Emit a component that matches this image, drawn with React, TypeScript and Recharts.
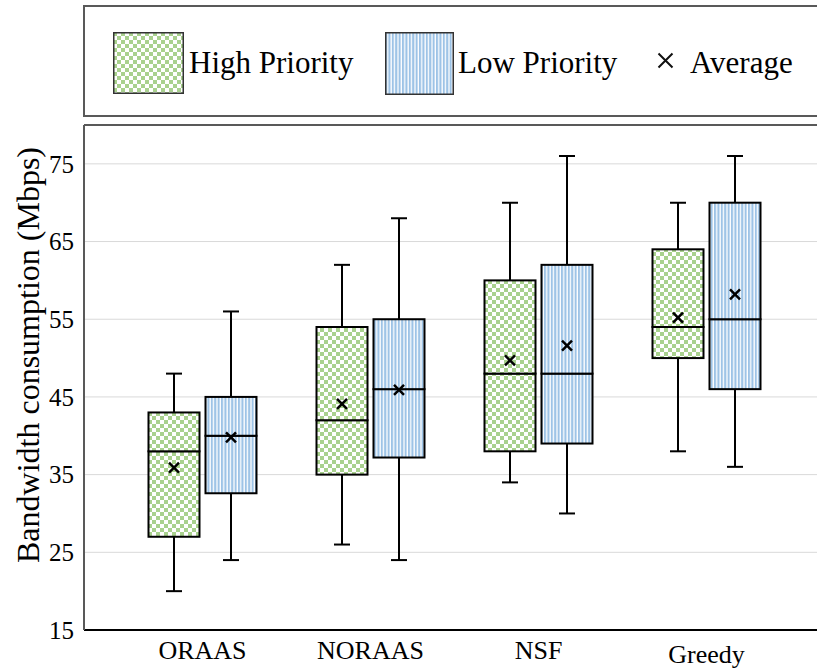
import React from "react"
import { ComposedChart, Bar, Scatter, XAxis, YAxis, CartesianGrid, ReferenceLine } from "recharts"

// values (Mbps)
const categories = ["ORAAS", "NORAAS", "NSF", "Greedy"]
const highMin = [20, 26, 34, 38]
const highQ1 = [27, 35, 38, 50]
const highMedian = [38, 42, 48, 54]
const highQ3 = [43, 54, 60, 64]
const highMax = [48, 62, 70, 70]
const highMean = [35.9, 44.1, 49.7, 55.2]
const lowMin = [24, 24, 30, 36]
const lowQ1 = [32.6, 37.2, 39, 46]
const lowMedian = [40, 46, 48, 55]
const lowQ3 = [45, 55, 62, 70]
const lowMax = [56, 68, 76, 76]
const lowMean = [39.8, 45.9, 51.6, 58.2]
const yTicks = [15, 25, 35, 45, 55, 65, 75]
const legendLabels = ["High Priority", "Low Priority", "Average"]

const FONT = "'Liberation Serif', 'Times New Roman', serif"
const BAR = 51
const GAP = 6
const SHIFT = (BAR + GAP) / 2

const data = categories.map((name, i) => ({
  name,
  hBase: highMin[i],
  hLowW: highQ1[i] - highMin[i],
  hBoxLo: highMedian[i] - highQ1[i],
  hBoxHi: highQ3[i] - highMedian[i],
  hUpW: highMax[i] - highQ3[i],
  hMean: highMean[i],
  lBase: lowMin[i],
  lLowW: lowQ1[i] - lowMin[i],
  lBoxLo: lowMedian[i] - lowQ1[i],
  lBoxHi: lowQ3[i] - lowMedian[i],
  lUpW: lowMax[i] - lowQ3[i],
  lMean: lowMean[i],
}))

const Empty = () => <g />

const LowerWhisker = (p: any) => {
  const cx = p.x + p.width / 2
  const bottom = p.y + p.height
  return (
    <g stroke="#000" strokeWidth={2}>
      <line x1={cx} x2={cx} y1={p.y} y2={bottom} />
      <line x1={cx - 8} x2={cx + 8} y1={bottom} y2={bottom} />
    </g>
  )
}

const UpperWhisker = (p: any) => {
  const cx = p.x + p.width / 2
  return (
    <g stroke="#000" strokeWidth={2}>
      <line x1={cx} x2={cx} y1={p.y} y2={p.y + p.height} />
      <line x1={cx - 8} x2={cx + 8} y1={p.y} y2={p.y} />
    </g>
  )
}

const boxShape = (pattern: string) => (p: any) =>
  <rect x={p.x} y={p.y} width={p.width} height={p.height} fill={`url(#${pattern})`} stroke="#000" strokeWidth={2} />

const meanShape = (dx: number) => (p: any) => {
  const x = p.cx + dx
  const y = p.cy
  return (
    <path
      d={`M${x - 5},${y - 5}L${x + 5},${y + 5}M${x + 5},${y - 5}L${x - 5},${y + 5}`}
      stroke="#000"
      strokeWidth={2.5}
      fill="none"
    />
  )
}

const CategoryTick = (p: any) => (
  <text
    x={p.x}
    y={p.y}
    dy={p.payload.value === "Greedy" ? 25 : 21}
    textAnchor="middle"
    fontSize={26}
    fill="#000"
    style={{ fontFamily: FONT }}
  >
    {p.payload.value}
  </text>
)

const Patterns = () => (
  <svg width={0} height={0} style={{ position: "absolute" }}>
    <defs>
      <pattern id="hpCheck" width={8} height={8} patternUnits="userSpaceOnUse">
        <rect width={8} height={8} fill="#fff" />
        <rect width={4} height={4} fill="#a9d18e" />
        <rect x={4} y={4} width={4} height={4} fill="#a9d18e" />
      </pattern>
      <pattern id="lpStripe" width={3.4} height={10} patternUnits="userSpaceOnUse">
        <rect width={3.4} height={10} fill="#fff" />
        <rect width={2.1} height={10} fill="#9dc3e6" />
      </pattern>
    </defs>
  </svg>
)

const Legend = () => {
  const text: React.CSSProperties = {
    position: "absolute",
    top: 36,
    fontSize: 31,
    lineHeight: "40px",
    fontFamily: FONT,
    color: "#000",
    whiteSpace: "nowrap",
  }
  return (
    <div
      style={{
        position: "absolute",
        left: 83,
        top: 5,
        width: 760,
        height: 112,
        border: "2px solid #595959",
        boxSizing: "border-box",
        background: "#fff",
      }}
    >
      <svg style={{ position: "absolute", left: 28, top: 25 }} width={71} height={62}>
        <rect x={0.75} y={0.75} width={69.5} height={60.5} fill="url(#hpCheck)" stroke="#333" strokeWidth={1.5} />
      </svg>
      <div style={{ ...text, left: 104 }}>{legendLabels[0]}</div>
      <svg style={{ position: "absolute", left: 300, top: 25 }} width={69} height={63}>
        <rect x={0.75} y={0.75} width={67.5} height={61.5} fill="url(#lpStripe)" stroke="#333" strokeWidth={1.5} />
      </svg>
      <div style={{ ...text, left: 373 }}>{legendLabels[1]}</div>
      <svg style={{ position: "absolute", left: 572, top: 45 }} width={17} height={17}>
        <path d="M1.5,1.5L15.5,15.5M15.5,1.5L1.5,15.5" stroke="#111" strokeWidth={2} fill="none" />
      </svg>
      <div style={{ ...text, left: 605 }}>{legendLabels[2]}</div>
    </div>
  )
}

export default function App() {
  return (
    <div
      style={{
        position: "absolute",
        left: 0,
        top: 0,
        width: 817,
        height: 668,
        overflow: "hidden",
        background: "#fff",
        fontFamily: FONT,
      }}
    >
      <Patterns />
      <Legend />
      <ComposedChart
        width={817}
        height={668}
        data={data}
        margin={{ top: 125, right: 0, bottom: 8, left: 24 }}
        barGap={GAP}
        barSize={BAR}
        style={{ fontFamily: FONT }}
      >
        <CartesianGrid vertical={false} stroke="#d9d9d9" strokeWidth={1} />
        <XAxis
          dataKey="name"
          padding={{ left: 34.5, right: 26.5 }}
          axisLine={{ stroke: "#000", strokeWidth: 2 }}
          tickLine={false}
          tick={<CategoryTick />}
          height={30}
        />
        <YAxis
          type="number"
          domain={[15, 80]}
          ticks={yTicks}
          allowDataOverflow
          width={60}
          axisLine={{ stroke: "#595959", strokeWidth: 2 }}
          tickLine={false}
          tickMargin={4}
          tick={{ fill: "#000", fontSize: 25, style: { fontFamily: FONT } }}
          label={{
            content: () => (
              <text
                x={28}
                y={355}
                transform="rotate(-90 28 355)"
                textAnchor="middle"
                dominantBaseline="central"
                fontSize={32}
                fill="#000"
                style={{ fontFamily: FONT }}
              >
                Bandwidth consumption (Mbps)
              </text>
            ),
          }}
        />
        <ReferenceLine y={80} stroke="#595959" strokeWidth={2} />

        <Bar dataKey="hBase" stackId="h" shape={Empty} isAnimationActive={false} />
        <Bar dataKey="hLowW" stackId="h" shape={LowerWhisker} isAnimationActive={false} />
        <Bar dataKey="hBoxLo" stackId="h" shape={boxShape("hpCheck")} isAnimationActive={false} />
        <Bar dataKey="hBoxHi" stackId="h" shape={boxShape("hpCheck")} isAnimationActive={false} />
        <Bar dataKey="hUpW" stackId="h" shape={UpperWhisker} isAnimationActive={false} />

        <Bar dataKey="lBase" stackId="l" shape={Empty} isAnimationActive={false} />
        <Bar dataKey="lLowW" stackId="l" shape={LowerWhisker} isAnimationActive={false} />
        <Bar dataKey="lBoxLo" stackId="l" shape={boxShape("lpStripe")} isAnimationActive={false} />
        <Bar dataKey="lBoxHi" stackId="l" shape={boxShape("lpStripe")} isAnimationActive={false} />
        <Bar dataKey="lUpW" stackId="l" shape={UpperWhisker} isAnimationActive={false} />

        <Scatter dataKey="hMean" shape={meanShape(-SHIFT)} isAnimationActive={false} />
        <Scatter dataKey="lMean" shape={meanShape(SHIFT)} isAnimationActive={false} />
      </ComposedChart>
    </div>
  )
}
